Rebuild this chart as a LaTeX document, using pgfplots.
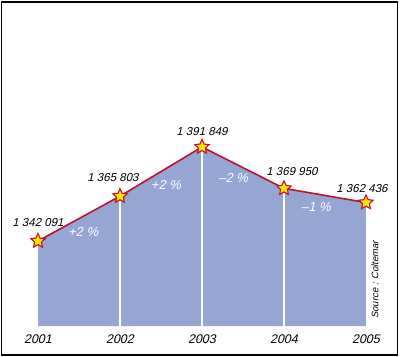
\documentclass[border=0pt]{standalone}
\usepackage{pgfplots}
\pgfplotsset{compat=1.18}
\usepackage{fontspec}
\setmainfont{Liberation Sans}
\newfontfamily\labfont{Liberation Sans}[FakeSlant=0.22]
\definecolor{areablue}{RGB}{150,166,211}
\definecolor{linered}{RGB}{192,18,38}
\definecolor{staryellow}{RGB}{255,230,0}
\pgfdeclareplotmark{fstar}{%
  \pgfpathmoveto{\pgfpointpolar{90}{\pgfplotmarksize}}%
  \pgfpathlineto{\pgfpointpolar{126}{0.48\pgfplotmarksize}}%
  \pgfpathlineto{\pgfpointpolar{162}{\pgfplotmarksize}}%
  \pgfpathlineto{\pgfpointpolar{198}{0.48\pgfplotmarksize}}%
  \pgfpathlineto{\pgfpointpolar{234}{\pgfplotmarksize}}%
  \pgfpathlineto{\pgfpointpolar{270}{0.48\pgfplotmarksize}}%
  \pgfpathlineto{\pgfpointpolar{306}{\pgfplotmarksize}}%
  \pgfpathlineto{\pgfpointpolar{342}{0.48\pgfplotmarksize}}%
  \pgfpathlineto{\pgfpointpolar{18}{\pgfplotmarksize}}%
  \pgfpathlineto{\pgfpointpolar{54}{0.48\pgfplotmarksize}}%
  \pgfpathclose
  \pgfusepathqfillstroke}
\begin{document}
\begin{tikzpicture}
\path[use as bounding box] (0,0) rectangle (400pt,357pt);
\begin{axis}[
  at={(38pt,31pt)}, anchor=south west,
  scale only axis, width=328pt, height=326pt,
  xmin=2001, xmax=2005, ymin=1297126, ymax=1469600,
  clip=false,
  axis line style={draw=none},
  major tick style={draw=none},
  ytick=\empty,
  xtick={2001,2002,2003,2004,2005},
  xticklabels={2001,2002,2003,2004,2005},
  xticklabel style={font=\labfont\fontsize{12.5}{12.5}\selectfont, inner sep=0pt, yshift=-8.5pt},
]
\addplot[fill=areablue, draw=none] coordinates {
  (2001,1342091) (2002,1365803) (2003,1391849) (2004,1369950) (2005,1362436)
} \closedcycle;
\addplot[white, line width=1.6pt] coordinates {(2002,1297126) (2002,1365803)};
\addplot[white, line width=1.6pt] coordinates {(2003,1297126) (2003,1391849)};
\addplot[white, line width=1.6pt] coordinates {(2004,1297126) (2004,1369950)};
\addplot[linered, line width=1.6pt, mark=fstar, mark size=7.5pt,
  mark options={fill=staryellow, draw=linered, line width=1.1pt}] coordinates {
  (2001,1342091) (2002,1365803) (2003,1391849) (2004,1369950) (2005,1362436)
};
\begin{scope}[every node/.style={font=\labfont\fontsize{11.5}{11.5}\selectfont, anchor=base, inner sep=0pt}]
\node at (axis cs:2001,1342091) [yshift=15pt] {1 342 091};
\node at (axis cs:2002,1365803) [yshift=15pt, xshift=-7pt] {1 365 803};
\node at (axis cs:2003,1391849) [yshift=11pt] {1 391 849};
\node at (axis cs:2004,1369950) [yshift=13pt, xshift=8pt] {1 369 950};
\node at (axis cs:2005,1362436) [yshift=10pt, xshift=-4pt] {1 362 436};
\end{scope}
\begin{scope}[every node/.style={font=\labfont\fontsize{13}{13}\selectfont, text=white, inner sep=0pt}]
\node at (axis cs:2001.55,1346852) {+2 \%};
\node at (axis cs:2002.56,1371715) {+2 \%};
\node at (axis cs:2003.38,1375418) {–2 \%};
\node at (axis cs:2004.39,1360077) {–1 \%};
\end{scope}
\end{axis}
\draw[line width=1.8pt] (1.5pt,2pt) rectangle (397.5pt,355pt);
\node[rotate=90, font=\labfont\fontsize{9.5}{9.5}\selectfont, inner sep=0pt] at (375pt,77pt) {Source : Coltemar};
\end{tikzpicture}
\end{document}
